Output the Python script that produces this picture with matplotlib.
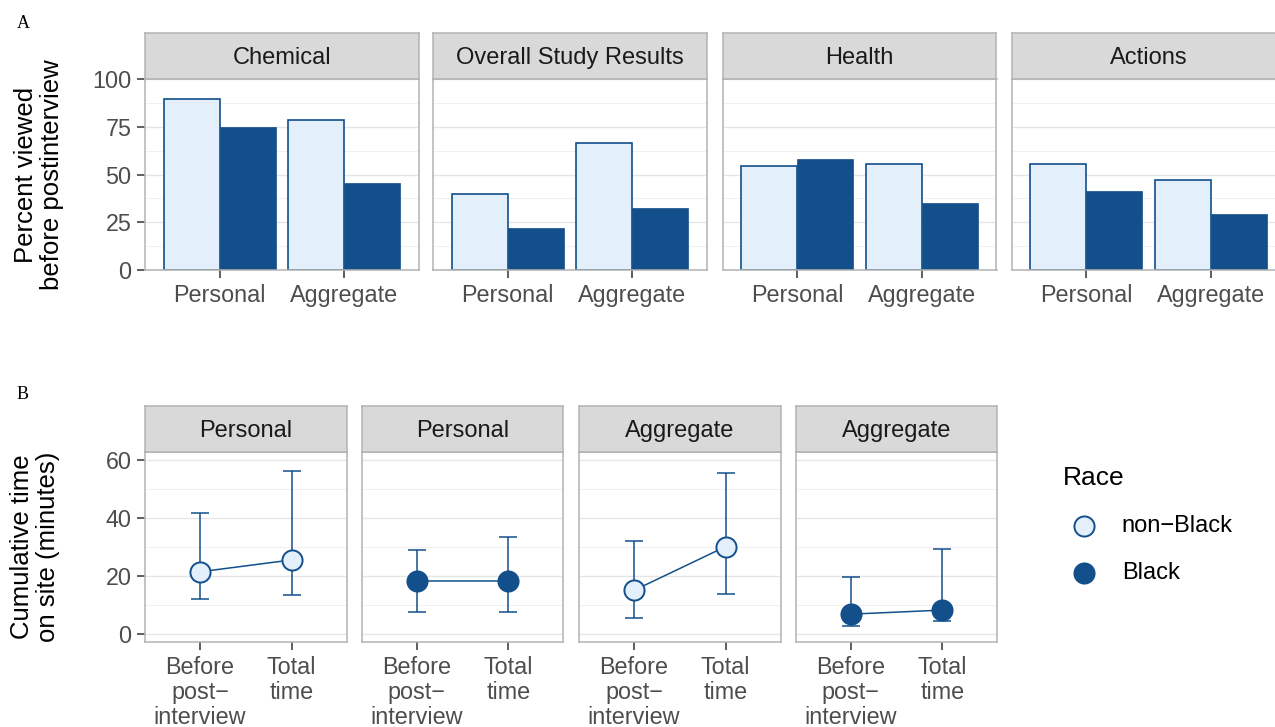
import matplotlib
matplotlib.use("Agg")
import matplotlib.pyplot as plt
import numpy as np
from matplotlib.lines import Line2D

plt.rcParams["font.family"] = ["Liberation Sans", "DejaVu Sans"]

# ---- data -------------------------------------------------------------
topics = ["Chemical", "Overall Study Results", "Health", "Actions"]
report_types = ["Personal", "Aggregate"]
# percent of participants who viewed each section before the post-interview
viewed_nonblack = [[89.5, 78.7], [40.0, 66.4], [54.2, 55.7], [55.7, 47.0]]
viewed_black = [[75.0, 45.8], [21.9, 32.2], [58.2, 35.0], [41.6, 29.5]]

time_panels = ["Personal", "Personal", "Aggregate", "Aggregate"]
time_race = ["non-Black", "Black", "non-Black", "Black"]
time_labels = ["Before\npost\u2212\ninterview", "Total\ntime"]
time_mean = [[21.5, 25.6], [18.3, 18.3], [15.1, 30.2], [6.9, 8.3]]
time_low = [[12.2, 13.5], [7.7, 7.7], [5.5, 13.9], [2.9, 4.7]]
time_high = [[41.8, 56.3], [28.9, 33.5], [32.2, 55.5], [19.8, 29.4]]

race_labels = ["non\u2212Black", "Black"]

# ---- styling ----------------------------------------------------------
LIGHT = "#E3EFFB"
DARK = "#124F8B"
BORDER = "#B3B3B3"
STRIP = "#D9D9D9"
TICK_TXT = "#4D4D4D"
STRIP_SIZE = 17

W, H = 1275, 727
fig = plt.figure(figsize=(W / 100, H / 100), dpi=100)


def px_axes(x0, x1, y0, y1):
    """Axes from pixel box (top-left origin)."""
    return fig.add_axes([x0 / W, 1 - y1 / H, (x1 - x0) / W, (y1 - y0) / H])


def style_panel(ax, show_y):
    ax.set_facecolor("white")
    for s in ax.spines.values():
        s.set_color(BORDER)
        s.set_linewidth(1.1)
    ax.grid(axis="y", which="major", color="#E6E6E6", linewidth=1.0)
    ax.grid(axis="y", which="minor", color="#F1F1F1", linewidth=0.7)
    ax.grid(axis="x", visible=False)
    ax.set_axisbelow(True)
    ax.tick_params(axis="both", which="major", length=5.8, width=1.1,
                   color="#333333", labelcolor=TICK_TXT, labelsize=16.8, pad=4)
    ax.tick_params(axis="both", which="minor", length=0)
    if not show_y:
        ax.tick_params(axis="y", which="major", length=0, labelleft=False)


def strip(x0, x1, y0, y1, text):
    sax = px_axes(x0, x1, y0, y1)
    sax.set_facecolor(STRIP)
    sax.set_xticks([])
    sax.set_yticks([])
    for s in sax.spines.values():
        s.set_color(BORDER)
        s.set_linewidth(1.1)
    # baseline placed so the cap height sits centred in the strip
    cap = 0.716 * STRIP_SIZE * 100 / 72
    base = (y0 + y1) / 2 + cap / 2
    fig.text((x0 + x1) / 2 / W, 1 - base / H, text, ha="center",
             va="baseline", fontsize=STRIP_SIZE, color="#1A1A1A")


# ---- panel A: bars ----------------------------------------------------
a_left = [145, 433, 722.5, 1011.7]
a_width = 274
x = np.arange(len(report_types)) + 1
for i, topic in enumerate(topics):
    x0 = a_left[i]
    ax = px_axes(x0, x0 + a_width, 79, 270)
    ax.bar(x - 0.225, viewed_nonblack[i], width=0.45, color=LIGHT,
           edgecolor=DARK, linewidth=1.2, zorder=2)
    ax.bar(x + 0.225, viewed_black[i], width=0.45, color=DARK,
           edgecolor=DARK, linewidth=0.5, zorder=2)
    ax.set_xlim(0.4, 2.6)
    ax.set_ylim(0, 100)
    ax.set_xticks(x)
    ax.set_xticklabels(report_types)
    ax.set_yticks([0, 25, 50, 75, 100])
    ax.set_yticks([12.5, 37.5, 62.5, 87.5], minor=True)
    style_panel(ax, i == 0)
    strip(x0, x0 + a_width, 33, 79, topic)

fig.text(39 / W, 1 - 174.5 / H, "Percent viewed\nbefore postinterview",
         rotation=90, ha="center", va="center", fontsize=18.5,
         linespacing=1.1, color="black")

# ---- panel B: time on site -------------------------------------------
b_left = [145, 361.7, 579, 795.7]
b_width = 201.7
for i, name in enumerate(time_panels):
    x0 = b_left[i]
    ax = px_axes(x0, x0 + b_width, 451.7, 642.3)
    is_black = time_race[i] == "Black"
    face = DARK if is_black else LIGHT
    mean = np.array(time_mean[i])
    err = np.array([mean - np.array(time_low[i]), np.array(time_high[i]) - mean])
    ax.errorbar(x, mean, yerr=err, fmt="none", ecolor=DARK, elinewidth=1.1,
                capsize=6.6, capthick=1.1, zorder=2)
    ax.plot(x, mean, color=DARK, linewidth=1.1, zorder=3)
    ax.plot(x, mean, linestyle="none", marker="o", markersize=14.5,
            markerfacecolor=face, markeredgecolor=DARK, markeredgewidth=1.4,
            zorder=4)
    ax.set_xlim(0.4, 2.6)
    ax.set_ylim(-2.8, 62.9)
    ax.set_xticks(x)
    ax.set_xticklabels(time_labels, linespacing=1.12)
    ax.set_yticks([0, 20, 40, 60])
    ax.set_yticks([10, 30, 50], minor=True)
    style_panel(ax, i == 0)
    strip(x0, x0 + b_width, 406, 451.7, name)

fig.text(35 / W, 1 - 547 / H, "Cumulative time\non site (minutes)",
         rotation=90, ha="center", va="center", fontsize=18.5,
         linespacing=1.1, color="black")

# ---- legend -----------------------------------------------------------
fig.text(1062.7 / W, 1 - 478 / H, "Race", ha="left", va="center",
         fontsize=19, color="black")
for label, face, yy in zip(race_labels, [LIGHT, DARK], [526, 572.7]):
    fig.add_artist(Line2D([1084.3 / W], [1 - yy / H], transform=fig.transFigure,
                          marker="o", markersize=14.5, markerfacecolor=face,
                          markeredgecolor=DARK, markeredgewidth=1.4,
                          linestyle="none"))
    fig.text(1121.7 / W, 1 - yy / H, label, ha="left", va="center",
             fontsize=17, color="black")

# ---- panel tags -------------------------------------------------------
fig.text(23 / W, 1 - 23 / H, "A", ha="center", va="center", fontsize=13,
         family=["Liberation Serif", "DejaVu Serif"])
fig.text(23 / W, 1 - 395 / H, "B", ha="center", va="center", fontsize=13,
         family=["Liberation Serif", "DejaVu Serif"])

fig.savefig("out.png", dpi=100)
